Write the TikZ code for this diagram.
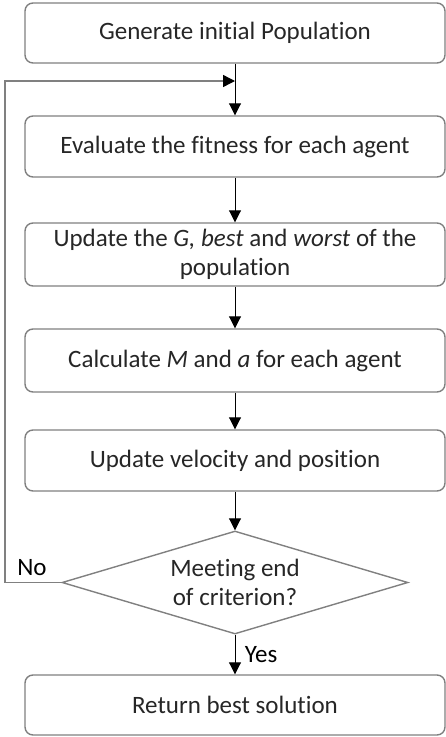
\documentclass[tikz,border=0pt]{standalone}
\usepackage{fontspec}
\setmainfont[Ligatures=NoCommon]{Carlito}
\usepackage{tikz}
\usetikzlibrary{arrows.meta,shapes.geometric}

\begin{document}
\begin{tikzpicture}[x=1pt, y=-1pt,
  font=\fontsize{25}{29}\selectfont,
  stepbox/.style={draw=black!50, line width=1.4pt, rounded corners=8pt,
    minimum width=420pt, inner sep=0pt, align=center, text=black!85},
  decision/.style={draw=black!50, line width=1.4pt, diamond, aspect=3.3,
    minimum width=346pt, minimum height=103pt, inner sep=0pt, align=center, text=black!85},
  flow/.style={-{Triangle[length=12pt,width=12pt]}, line width=0.9pt}]
\useasboundingbox (0,0) rectangle (446,737);

% Boxes
\node[stepbox, minimum height=60pt] (init) at (235,33) {Generate initial Population};
\node[stepbox, minimum height=61pt] (eval) at (235,146.5) {Evaluate the fitness for each agent};
\node[stepbox, minimum height=63pt] (upd) at (235,254.5) {Update the \textit{G, best} and \textit{worst} of the\\population};
\node[stepbox, minimum height=63pt] (calc) at (235,360.5) {Calculate \textit{M} and \textit{a} for each agent};
\node[stepbox, minimum height=61pt] (move) at (235,460.5) {Update velocity and position};
\node[decision] (stop) at (235,582.5) {Meeting end\\of criterion?};
\node[stepbox, minimum height=60pt] (ret) at (235,705) {Return best solution};

% Main flow
\draw[flow] (init) -- (eval);
\draw[flow] (eval) -- (upd);
\draw[flow] (upd) -- (calc);
\draw[flow] (calc) -- (move);
\draw[flow] (move) -- (stop);
\draw[flow] (stop) -- node[right, xshift=6pt] (yes) {Yes} (ret);

% Loop back
\coordinate (back) at (235,81);
\draw[-{Triangle[length=12pt,width=12pt,color=black]}, draw=black!50, line width=1.4pt]
  (stop.west) -- (5,582.5) |- (back);
\node (no) at (32,568) {No};

\end{tikzpicture}
\end{document}
